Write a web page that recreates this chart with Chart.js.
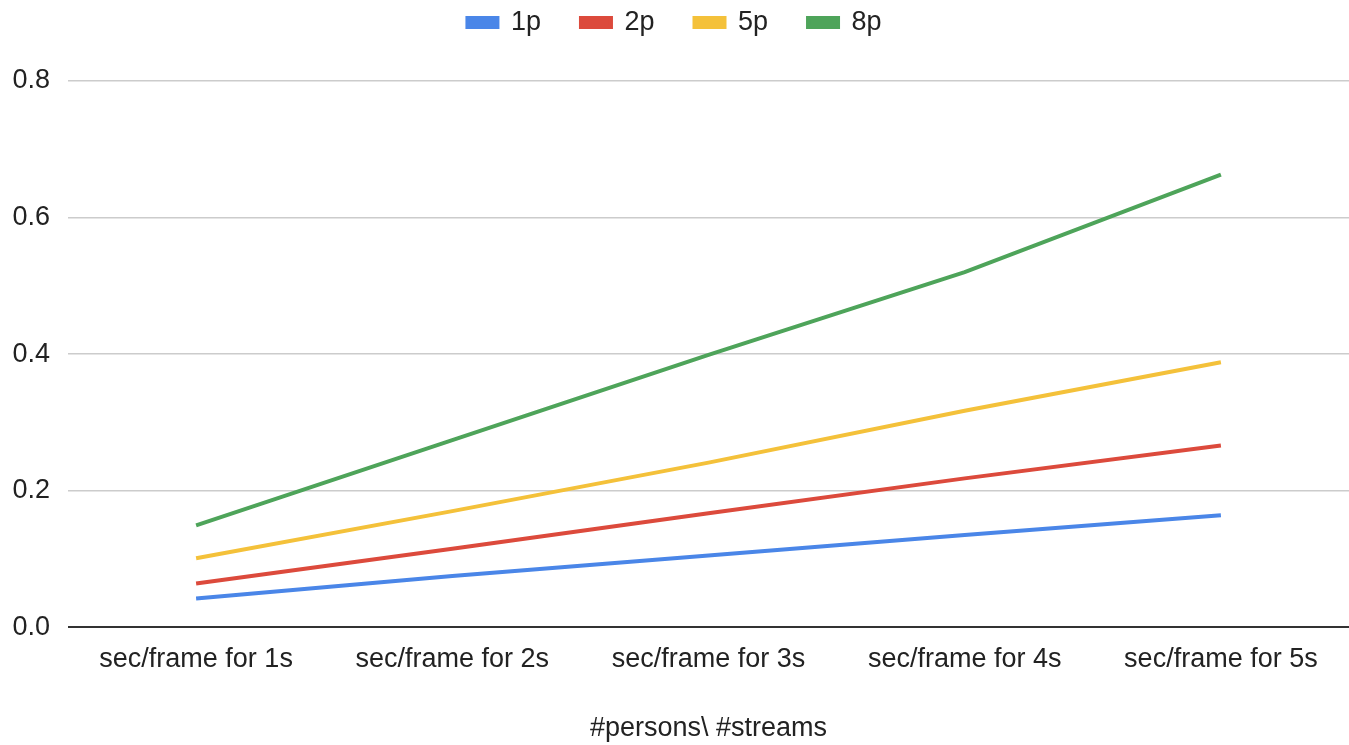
<!DOCTYPE html>
<html>
<head>
<meta charset="utf-8">
<script src="https://cdn.jsdelivr.net/npm/chart.js@4"></script>
<style>
  html, body { margin: 0; padding: 0; background: #fff; }
  #wrap { width: 1349px; height: 745px; position: relative; }
</style>
</head>
<body>
<div id="wrap"><canvas id="c"></canvas></div>
<script>
// Categories along the x axis
const categories = ['sec/frame for 1s', 'sec/frame for 2s', 'sec/frame for 3s', 'sec/frame for 4s', 'sec/frame for 5s'];

// Seconds per frame for each number of persons
const series1p = [0.042, 0.075, 0.105, 0.135, 0.164];
const series2p = [0.064, 0.115, 0.167, 0.218, 0.266];
const series5p = [0.101, 0.170, 0.241, 0.317, 0.388];
const series8p = [0.149, 0.274, 0.399, 0.520, 0.663];

const seriesNames = ['1p', '2p', '5p', '8p'];
const yTicks = [0.0, 0.2, 0.4, 0.6, 0.8];

const colors = ['#4a86e8', '#dc4a3c', '#f4c13a', '#4ea45a'];
const values = [series1p, series2p, series5p, series8p];

const font = 'Liberation Sans, Arial, sans-serif';
const fontSize = 27;

// Extra room between the legend and the plot area
const legendGap = {
  id: 'legendGap',
  beforeInit(chart) {
    const fit = chart.legend.fit;
    chart.legend.fit = function () {
      fit.bind(chart.legend)();
      this.height += 35;
    };
  }
};

new Chart(document.getElementById('c'), {
  type: 'line',
  data: {
    labels: categories,
    datasets: seriesNames.map((n, i) => ({
      label: n,
      data: values[i],
      borderColor: colors[i],
      backgroundColor: colors[i],
      borderWidth: 4,
      pointRadius: 0,
      tension: 0
    }))
  },
  plugins: [legendGap],
  options: {
    responsive: true,
    maintainAspectRatio: false,
    animation: false,
    layout: { padding: { left: 0, right: 0, top: -31, bottom: 0 } },
    plugins: {
      legend: {
        position: 'top',
        labels: {
          font: { family: font, size: fontSize },
          color: '#222',
          boxWidth: 30,
          boxHeight: 9,
          padding: 40
        }
      },
      tooltip: { enabled: false }
    },
    scales: {
      x: {
        offset: true,
        grid: { display: false },
        border: { display: false },
        ticks: { font: { family: font, size: fontSize }, color: '#222', padding: 8, maxRotation: 0, autoSkip: false },
        title: {
          display: true,
          text: '#persons\\ #streams',
          font: { family: font, size: fontSize },
          color: '#222',
          padding: { top: 29, bottom: 0 }
        }
      },
      y: {
        min: 0,
        max: 0.8,
        afterBuildTicks: (axis) => { axis.ticks = yTicks.map(v => ({ value: v })); },
        afterFit: (axis) => { axis.width = 68; },
        grid: {
          color: (ctx) => ctx.tick && ctx.tick.value === 0 ? '#333' : '#cccccc',
          lineWidth: (ctx) => ctx.tick && ctx.tick.value === 0 ? 2 : 1.5,
          drawTicks: false
        },
        border: { display: false },
        ticks: {
          font: { family: font, size: fontSize },
          color: '#222',
          padding: 18,
          callback: (v) => Number(v).toFixed(1)
        }
      }
    }
  }
});
</script>
</body>
</html>
